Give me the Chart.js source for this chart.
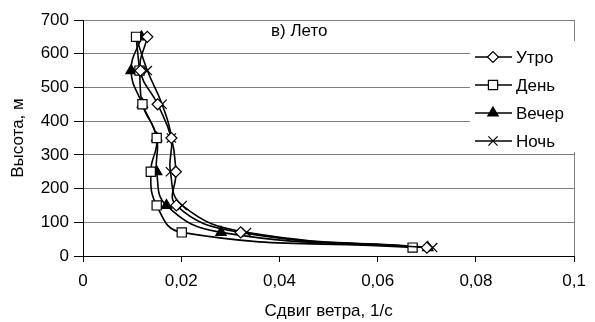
<!DOCTYPE html>
<html>
<head>
<meta charset="utf-8">
<script src="https://cdn.jsdelivr.net/npm/chart.js@4"></script>
<style>
  html, body { margin: 0; padding: 0; background: #fff; }
  #wrap { width: 595px; height: 322px; }
</style>
</head>
<body>
<div id="wrap"><canvas id="chart" width="595" height="322"></canvas></div>
<script>
// Heights (m) for every profile point
const heights = [25, 70, 150, 250, 350, 450, 550, 650];

// Wind shear values (1/s) for each time of day
const morning = [0.0700, 0.0321, 0.0190, 0.0189, 0.0180, 0.0152, 0.0117, 0.0131];
const day     = [0.0671, 0.0201, 0.0150, 0.0138, 0.0150, 0.0121, 0.0115, 0.0108];
const evening = [0.0702, 0.0281, 0.0170, 0.0150, 0.0150, 0.0121, 0.0098, 0.0119];
const night   = [0.0712, 0.0333, 0.0202, 0.0178, 0.0180, 0.0161, 0.0131, 0.0108];

const seriesNames = ['Утро', 'День', 'Вечер', 'Ночь'];
const xTicks = [0, 0.02, 0.04, 0.06, 0.08, 0.1];
const yTicks = [0, 100, 200, 300, 400, 500, 600, 700];

const FONT = "'Liberation Sans', Arial, sans-serif";
const FSIZE = 17;

// Turn x values + heights into points
function toPoints(values) {
  return values.map((v, i) => ({ x: v, y: heights[i] }));
}

function makeDataset(label, values, style, radius, fill) {
  return {
    label: label,
    data: toPoints(values),
    borderColor: '#000',
    borderWidth: 1.6,
    tension: 0.45,
    pointStyle: style,
    pointRadius: radius,
    pointHoverRadius: radius,
    pointBackgroundColor: fill,
    pointBorderColor: '#000',
    pointBorderWidth: 1.2
  };
}

const datasets = [
  makeDataset(seriesNames[0], morning, 'rectRot', 5.5, '#fff'),
  makeDataset(seriesNames[1], day, 'rect', 6.5, '#fff'),
  makeDataset(seriesNames[2], evening, 'triangle', 6, '#000'),
  makeDataset(seriesNames[3], night, 'crossRot', 6.5, '#000')
];

function fmt(v) {
  return String(+v.toFixed(2)).replace('.', ',');
}

// Title inside the plot area
const innerTitle = {
  id: 'innerTitle',
  afterDraw(chart) {
    const ctx = chart.ctx;
    ctx.save();
    ctx.font = FSIZE + 'px ' + FONT;
    ctx.fillStyle = '#000';
    ctx.textAlign = 'left';
    ctx.textBaseline = 'middle';
    ctx.fillText('в) Лето', 271, 31);
    ctx.restore();
  }
};

// Legend drawn like the spreadsheet one: line with marker, then text
const boxLegend = {
  id: 'boxLegend',
  afterDraw(chart) {
    const ctx = chart.ctx;
    ctx.save();
    ctx.fillStyle = '#fff';
    ctx.fillRect(470, 41, 108, 111);
    chart.data.datasets.forEach((ds, i) => {
      const y = 57 + i * 28;
      ctx.strokeStyle = '#000';
      ctx.lineWidth = 1.5;
      ctx.beginPath();
      ctx.moveTo(475, y);
      ctx.lineTo(512, y);
      ctx.stroke();
      ctx.fillStyle = ds.pointBackgroundColor;
      ctx.strokeStyle = '#000';
      ctx.lineWidth = 1.2;
      Chart.helpers.drawPoint(ctx, {
        pointStyle: ds.pointStyle,
        radius: ds.pointRadius,
        rotation: 0,
        borderWidth: 1.2
      }, 493, y);
      ctx.fillStyle = '#000';
      ctx.font = FSIZE + 'px ' + FONT;
      ctx.textAlign = 'left';
      ctx.textBaseline = 'middle';
      ctx.fillText(ds.label, 516, y + 1);
    });
    ctx.restore();
  }
};

new Chart(document.getElementById('chart'), {
  type: 'line',
  data: { datasets: datasets },
  plugins: [innerTitle, boxLegend],
  options: {
    responsive: false,
    animation: false,
    layout: { padding: { top: 20, right: 14, left: 0, bottom: 0 } },
    plugins: {
      legend: { display: false },
      tooltip: { enabled: false }
    },
    scales: {
      x: {
        type: 'linear',
        min: 0,
        max: 0.1,
        afterBuildTicks: (axis) => { axis.ticks = xTicks.map(v => ({ value: v })); },
        afterFit: (axis) => { axis.height = 66; },
        ticks: {
          callback: fmt,
          color: '#000',
          font: { family: FONT, size: FSIZE },
          padding: 9,
          maxRotation: 0
        },
        grid: {
          drawOnChartArea: true,
          color: (c) => (c.tick && Math.abs(c.tick.value - 0.1) < 1e-9) ? '#808080' : 'rgba(0,0,0,0)',
          tickColor: '#000',
          tickLength: 6
        },
        border: { color: '#000', width: 1 },
        title: {
          display: true,
          text: 'Сдвиг ветра, 1/с',
          color: '#000',
          font: { family: FONT, size: FSIZE },
          padding: { top: 4, bottom: 0 }
        }
      },
      y: {
        min: 0,
        max: 700,
        afterBuildTicks: (axis) => { axis.ticks = yTicks.map(v => ({ value: v })); },
        afterFit: (axis) => { axis.width = 83; },
        ticks: {
          color: '#000',
          font: { family: FONT, size: FSIZE },
          padding: 5
        },
        grid: {
          color: '#808080',
          tickColor: '#000',
          tickLength: 9
        },
        border: { color: '#000', width: 1 },
        title: {
          display: true,
          text: 'Высота, м',
          color: '#000',
          font: { family: FONT, size: FSIZE },
          padding: { top: 8, bottom: 0 }
        }
      }
    }
  }
});
</script>
</body>
</html>
